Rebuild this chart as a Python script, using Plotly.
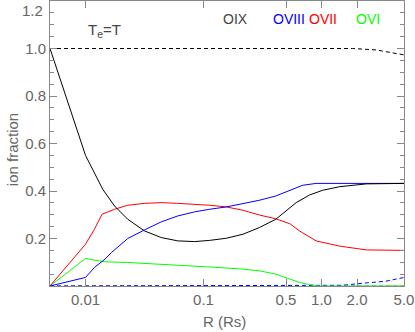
import plotly.graph_objects as go

# radius grid (Rs) and ion fractions
r_oix = [0.005, 0.01, 0.014, 0.0176, 0.0228, 0.0316, 0.0438, 0.0605, 0.0839, 0.1125,
         0.156, 0.216, 0.297, 0.41, 0.5, 0.61, 0.79, 1.02, 1.42, 2.4, 5.0]
oix = [1.0, 0.55, 0.407, 0.337, 0.281, 0.232, 0.204, 0.19, 0.187, 0.192,
       0.201, 0.218, 0.246, 0.281, 0.316, 0.351, 0.383, 0.403, 0.418, 0.43, 0.432]

r_oviii = [0.005, 0.01, 0.0119, 0.0146, 0.0166, 0.0228, 0.0316, 0.0438, 0.0605, 0.0839, 0.1125,
           0.156, 0.216, 0.297, 0.41, 0.57, 0.69, 0.9, 1.25, 2.4, 5.0]
oviii = [0.0, 0.036, 0.078, 0.113, 0.141, 0.2, 0.236, 0.27, 0.295, 0.312, 0.323,
         0.333, 0.347, 0.361, 0.379, 0.407, 0.424, 0.432, 0.432, 0.432, 0.432]

r_ovii = [0.005, 0.01, 0.0119, 0.0138, 0.0176, 0.0228, 0.0316, 0.0438, 0.0605, 0.0839, 0.1125,
          0.156, 0.216, 0.297, 0.41, 0.54, 0.65, 0.9, 1.16, 1.42, 2.4, 5.0]
ovii = [0.0, 0.176, 0.239, 0.302, 0.323, 0.34, 0.348, 0.351, 0.348, 0.344, 0.34,
        0.333, 0.319, 0.299, 0.283, 0.262, 0.232, 0.19, 0.176, 0.168, 0.152, 0.15]

r_ovi = [0.005, 0.01, 0.0119, 0.0145, 0.0228, 0.0438, 0.0839, 0.1236, 0.216, 0.297, 0.41,
         0.54, 0.65, 0.79, 0.95, 2.0, 5.0]
ovi = [0.0, 0.116, 0.109, 0.102, 0.099, 0.092, 0.085, 0.079, 0.071, 0.064, 0.05,
       0.029, 0.015, 0.006, 0.0, 0.0, 0.0]

r_sum = [0.005, 0.5, 1.0, 1.83, 2.9, 5.0]
total = [1.0, 1.0, 1.0, 1.0, 0.994, 0.973]

r_low = [0.005, 0.5, 1.0, 1.5, 2.4, 3.5, 5.0]
low = [0.0, 0.0, 0.0, 0.003, 0.013, 0.02, 0.036]

x_ticks = [0.01, 0.1, 0.5, 1.0, 2.0, 5.0]
x_labels = ['0.01', '0.1', '0.5', '1.0', '2.0', '5.0']
y_ticks = [0.2, 0.4, 0.6, 0.8, 1.0, 1.2]

ions = ['OIX', 'OVIII', 'OVII', 'OVI']
colors = ['black', '#0000ff', '#ff0000', '#00ff00']

fig = go.Figure()
fig.add_trace(go.Scatter(x=r_sum, y=[0.0] * len(r_sum), mode='lines',
                         line=dict(color='#777777', width=1, dash='4px,3px')))
fig.add_trace(go.Scatter(x=r_low, y=low, mode='lines',
                         line=dict(color='#0000ff', width=1, dash='4px,3px')))
fig.add_trace(go.Scatter(x=r_sum, y=total, mode='lines',
                         line=dict(color='black', width=1, dash='4px,3px')))
for rr, vals, c in [(r_ovi, ovi, colors[3]), (r_ovii, ovii, colors[2]),
                    (r_oviii, oviii, colors[1]), (r_oix, oix, colors[0])]:
    fig.add_trace(go.Scatter(x=rr, y=vals, mode='lines', line=dict(color=c, width=1)))

font = dict(family='Liberation Sans', size=15, color='#666666')
axis = dict(showline=True, linecolor='#888888', linewidth=1, mirror='allticks',
            ticks='inside', tickcolor='#888888', ticklen=7, showgrid=False,
            zeroline=False, tickfont=font)

# top label (1.2) sits at the very edge, so it is placed as text below
fig.update_xaxes(type='log', range=[-2.301, 0.699], tickvals=x_ticks, ticktext=x_labels, **axis)
fig.update_yaxes(range=[0, 1.2], tickvals=y_ticks,
                 ticktext=['%.1f' % v for v in y_ticks[:-1]] + [''],
                 minor=dict(tick0=0, dtick=0.05, ticks='inside', ticklen=4, tickcolor='#888888'),
                 **axis)
fig.add_annotation(x=-0.014, y=y_ticks[-1], xref='paper', yref='y', text='%.1f' % y_ticks[-1],
                   showarrow=False, xanchor='right', yanchor='top', yshift=1, font=font)

# legend labels and titles as text
legend_x = [0.525, 0.675, 0.771, 0.898]
for name, c, lx in zip(ions, colors, legend_x):
    fig.add_annotation(x=lx, y=0.937, xref='paper', yref='paper', text=name, showarrow=False,
                       xanchor='center', yanchor='middle',
                       font=dict(family='Liberation Sans', size=14, color=c if c != 'black' else '#444444'))
fig.add_annotation(x=0.102, y=0.895, xref='paper', yref='paper', xanchor='left', yanchor='middle',
                   text='T<sub>e</sub>=T', showarrow=False,
                   font=dict(family='Liberation Sans', size=15, color='#444444'))
fig.add_annotation(x=0.494, y=-0.126, xref='paper', yref='paper', text='R (Rs)', showarrow=False,
                   xanchor='center', yanchor='middle', font=font)
fig.add_annotation(x=-0.107, y=0.477, xref='paper', yref='paper', text='ion fraction', showarrow=False,
                   xanchor='center', yanchor='middle', textangle=-90, font=font)

fig.update_layout(width=415, height=332, margin=dict(l=50, r=11, t=1, b=46),
                  showlegend=False, plot_bgcolor='white', paper_bgcolor='white')
fig.write_html("out.html", config={'displayModeBar': False},
               post_script="document.body.style.margin='0';")
